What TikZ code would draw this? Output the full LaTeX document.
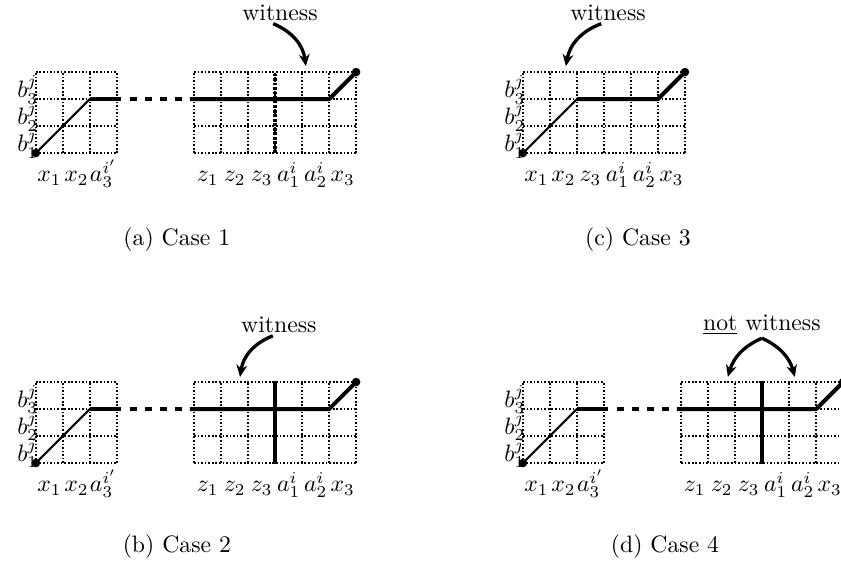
\documentclass[tikz,border=0pt]{standalone}
\usetikzlibrary{arrows.meta}
\tikzset{
  gridline/.style={step=1, line width=0.7pt, dash pattern=on 0.7pt off 0.8pt},
  bargrid/.style={line width=1.7pt, dash pattern=on 1.2pt off 0.7pt},
  barline/.style={line width=1.7pt},
  pathline/.style={line width=1.7pt, line join=round},
  slantline/.style={line width=0.9pt},
  gapline/.style={line width=1.7pt, dash pattern=on 2.8pt off 3.5pt},
  rowlab/.style={anchor=base east, inner sep=0pt},
  collab/.style={anchor=base, inner sep=0pt},
  wittext/.style={inner sep=1pt},
  caplab/.style={inner sep=1pt},
  witarrow/.style={line width=1.4pt, -{Stealth[length=5pt,width=4.5pt]}}
}

\begin{document}
\begin{tikzpicture}[x=0.4cm, y=0.4cm]
\useasboundingbox (0,0) rectangle (31.15,20.93);
\clip (0,0) rectangle (31.15,20.93);

% Case 1
\begin{scope}[shift={(1.33,15.26)}]
\draw[gridline] (0,0) grid (3,3);
\begin{scope}[shift={(5.86,0)}]
\draw[gridline] (0,0) grid (6,3);
\draw[bargrid] (3,0) -- (3,3);
\end{scope}
\draw[slantline] (0,0) -- (2,2);
\draw[pathline] (2,2) -- (3.15,2);
\draw[gapline] (3.5,2) -- (5.55,2);
\draw[pathline] (5.7,2) -- (10.86,2) -- (11.86,3);
\fill (0,0) circle (1.8pt); \fill (11.86,3) circle (1.8pt);
% Labels
\node[rowlab] (b1a) at (0.1,0.05) {$b^j_1$}; \node[rowlab] (b2a) at (0.1,1.05) {$b^j_2$}; \node[rowlab] (b3a) at (0.1,2.05) {$b^j_3$};
\node[collab] (x1a) at (0.5,-1.07) {$x_1$}; \node[collab] (x2a) at (1.5,-1.07) {$x_2$}; \node[collab] (a3a) at (2.5,-1.07) {$a^{i'}_3$};
\node[collab] (z1a) at (6.36,-1.07) {$z_1$}; \node[collab] (z2a) at (7.36,-1.07) {$z_2$}; \node[collab] (z3a) at (8.36,-1.07) {$z_3$};
\node[collab] (a1a) at (9.36,-1.07) {$a^i_1$}; \node[collab] (a2a) at (10.36,-1.07) {$a^i_2$}; \node[collab] (x3a) at (11.36,-1.07) {$x_3$};
% Witness
\node[wittext] (wita) at (9.04,5.19) {witness};
\coordinate (witaend) at (10.0,3.22);
\draw[witarrow] ([xshift=-1mm]wita.south) to[bend left=30] (witaend);
\node[caplab] (capa) at (5.22,-3.22) {(a) Case 1};
\end{scope}

% Case 3
\begin{scope}[shift={(19.37,15.26)}]
\draw[gridline] (0,0) grid (6,3);
\draw[slantline] (0,0) -- (2,2);
\draw[pathline] (2,2) -- (5,2) -- (6,3);
\fill (0,0) circle (1.8pt); \fill (6,3) circle (1.8pt);
% Labels
\node[rowlab] (b1c) at (0.1,0.05) {$b^j_1$}; \node[rowlab] (b2c) at (0.1,1.05) {$b^j_2$}; \node[rowlab] (b3c) at (0.1,2.05) {$b^j_3$};
\node[collab] (x1c) at (0.5,-1.07) {$x_1$}; \node[collab] (x2c) at (1.5,-1.07) {$x_2$}; \node[collab] (z3c) at (2.5,-1.07) {$z_3$};
\node[collab] (a1c) at (3.5,-1.07) {$a^i_1$}; \node[collab] (a2c) at (4.5,-1.07) {$a^i_2$}; \node[collab] (x3c) at (5.5,-1.07) {$x_3$};
% Witness
\node[wittext] (witc) at (3.15,5.19) {witness};
\coordinate (witcend) at (1.59,3.22);
\draw[witarrow] ([xshift=-1mm]witc.south) to[bend right=30] (witcend);
\node[caplab] (capc) at (4.26,-3.22) {(c) Case 3};
\end{scope}

% Case 2
\begin{scope}[shift={(1.33,3.78)}]
\draw[gridline] (0,0) grid (3,3);
\begin{scope}[shift={(5.86,0)}]
\draw[gridline] (0,0) grid (6,3);
\draw[barline] (3,-0.02) -- (3,3.05);
\end{scope}
\draw[slantline] (0,0) -- (2,2);
\draw[pathline] (2,2) -- (3.15,2);
\draw[gapline] (3.5,2) -- (5.55,2);
\draw[pathline] (5.7,2) -- (10.86,2) -- (11.86,3);
\fill (0,0) circle (1.8pt); \fill (11.86,3) circle (1.8pt);
% Labels
\node[rowlab] (b1b) at (0.1,0.05) {$b^j_1$}; \node[rowlab] (b2b) at (0.1,1.05) {$b^j_2$}; \node[rowlab] (b3b) at (0.1,2.05) {$b^j_3$};
\node[collab] (x1b) at (0.5,-1.07) {$x_1$}; \node[collab] (x2b) at (1.5,-1.07) {$x_2$}; \node[collab] (a3b) at (2.5,-1.07) {$a^{i'}_3$};
\node[collab] (z1b) at (6.36,-1.07) {$z_1$}; \node[collab] (z2b) at (7.36,-1.07) {$z_2$}; \node[collab] (z3b) at (8.36,-1.07) {$z_3$};
\node[collab] (a1b) at (9.36,-1.07) {$a^i_1$}; \node[collab] (a2b) at (10.36,-1.07) {$a^i_2$}; \node[collab] (x3b) at (11.36,-1.07) {$x_3$};
% Witness
\node[wittext] (witb) at (9.0,5.11) {witness};
\coordinate (witbend) at (7.56,3.19);
\draw[witarrow] ([xshift=-0.9mm]witb.south) to[bend right=30] (witbend);
\node[caplab] (capb) at (5.22,-3.11) {(b) Case 2};
\end{scope}

% Case 4
\begin{scope}[shift={(19.37,3.78)}]
\draw[gridline] (0,0) grid (3,3);
\begin{scope}[shift={(5.86,0)}]
\draw[gridline] (0,0) grid (6,3);
\draw[barline] (3,-0.02) -- (3,3.05);
\end{scope}
\draw[slantline] (0,0) -- (2,2);
\draw[pathline] (2,2) -- (3.15,2);
\draw[gapline] (3.5,2) -- (5.55,2);
\draw[pathline] (5.7,2) -- (10.86,2) -- (11.86,3);
\fill (0,0) circle (1.8pt); \fill (11.86,3) circle (1.8pt);
% Labels
\node[rowlab] (b1d) at (0.1,0.05) {$b^j_1$}; \node[rowlab] (b2d) at (0.1,1.05) {$b^j_2$}; \node[rowlab] (b3d) at (0.1,2.05) {$b^j_3$};
\node[collab] (x1d) at (0.5,-1.07) {$x_1$}; \node[collab] (x2d) at (1.5,-1.07) {$x_2$}; \node[collab] (a3d) at (2.5,-1.07) {$a^{i'}_3$};
\node[collab] (z1d) at (6.36,-1.07) {$z_1$}; \node[collab] (z2d) at (7.36,-1.07) {$z_2$}; \node[collab] (z3d) at (8.36,-1.07) {$z_3$};
\node[collab] (a1d) at (9.36,-1.07) {$a^i_1$}; \node[collab] (a2d) at (10.36,-1.07) {$a^i_2$}; \node[collab] (x3d) at (11.36,-1.07) {$x_3$};
% Not witness
\node[wittext] (witd) at (8.85,5.11) {\underline{not} witness};
\coordinate (witdleft) at (7.59,3.19);
\coordinate (witdright) at (10.07,3.19);
\draw[witarrow] (witd.south) to[bend right=25] (witdleft);
\draw[witarrow] (witd.south) to[bend left=25] (witdright);
\node[caplab] (capd) at (5.26,-3.11) {(d) Case 4};
\end{scope}
\end{tikzpicture}
\end{document}
